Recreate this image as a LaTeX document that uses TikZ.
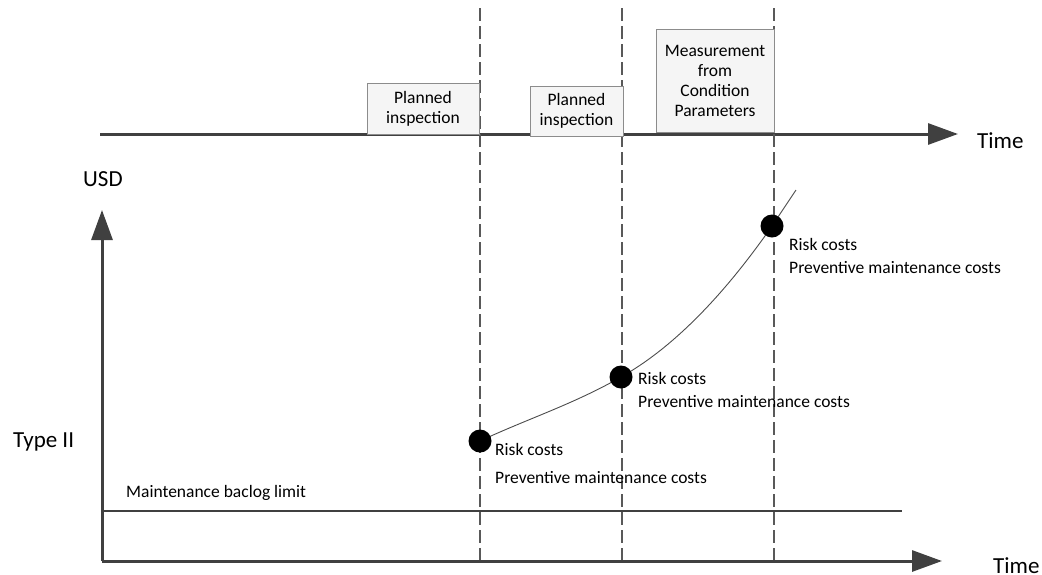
\documentclass[tikz,border=0pt]{standalone}
\usepackage{fontspec}
\setmainfont{Carlito}
\usetikzlibrary{arrows.meta}
\begin{document}
\begin{tikzpicture}[x=1pt,y=-1pt,
  axis/.style={line width=3pt,draw=black!75,-{Triangle[length=30pt,width=21pt]}},
  limitline/.style={line width=2.6pt,draw=black!75},
  guide/.style={line width=1.1pt,draw=black!65,dash pattern=on 13pt off 5pt},
  eventbox/.style={draw=black!45,line width=0.8pt,fill=black!4,inner sep=0pt,
    align=center,font=\fontsize{17.5}{20}\selectfont},
  costdot/.style={circle,fill=black,inner sep=0pt,minimum size=23pt},
  small/.style={font=\fontsize{17.5}{20}\selectfont,inner sep=0pt},
  big/.style={font=\fontsize{23}{26}\selectfont,inner sep=0pt},
  curve/.style={line width=0.9pt,draw=black!70}]
\useasboundingbox (0,0) rectangle (1042,574);

% upper time line
\coordinate (t0) at (100,134);
\coordinate (t1) at (958,134);
\draw[axis] (t0) -- (t1);
\node[big,anchor=base west] (timeTop) at (977,148) {Time};

% chart axes
\coordinate (origin) at (102,561);
\coordinate (ytip) at (102,210);
\coordinate (xtip) at (942,561);
\draw[axis] (origin) -- (ytip);
\draw[axis] (origin) -- (xtip);
\node[big,anchor=base west] (usd) at (83,186) {USD};
\node[big,anchor=base west] (timeBot) at (993,573) {Time};
\node[big,anchor=base west] (type) at (13,447) {Type II};

% backlog limit
\coordinate (l0) at (102,511);
\coordinate (l1) at (902,511);
\draw[limitline] (l0) -- (l1);
\node[small,anchor=base west] (limit) at (126,497) {Maintenance baclog limit};

% vertical guides at the three events
\foreach \n/\x in {a/480,b/622,c/774}{
  \coordinate (g\n top) at (\x,8);
  \coordinate (g\n bot) at (\x,560);
  \draw[guide] (g\n top) -- (g\n bot);
}

% event boxes on the time line
\node[eventbox,minimum width=112pt,minimum height=51pt] (box1) at (423,108.5) {Planned\\inspection};
\node[eventbox,minimum width=93pt,minimum height=50pt] (box2) at (576.5,111) {Planned\\inspection};
\node[eventbox,minimum width=118pt,minimum height=103pt] (box3) at (715,80.5) {Measurement\\from\\Condition\\Parameters};

% cost curve
\coordinate (d1) at (480,441);
\coordinate (d2) at (621,377);
\coordinate (d3) at (772,226);
\coordinate (cend) at (796,190);
\draw[curve] (d1) .. controls (527,419) and (574,404) .. (d2)
  .. controls (671,349) and (722,298) .. (d3) -- (cend);
\node[costdot] (dot1) at (d1) {};
\node[costdot] (dot2) at (d2) {};
\node[costdot] (dot3) at (d3) {};

% cost labels
\node[small,anchor=base west] (r1) at (495,455) {Risk costs};
\node[small,anchor=base west] (p1) at (495,483) {Preventive maintenance costs};
\node[small,anchor=base west] (r2) at (638,384) {Risk costs};
\node[small,anchor=base west] (p2) at (638,407) {Preventive maintenance costs};
\node[small,anchor=base west] (r3) at (789,250) {Risk costs};
\node[small,anchor=base west] (p3) at (789,273) {Preventive maintenance costs};
\end{tikzpicture}
\end{document}
